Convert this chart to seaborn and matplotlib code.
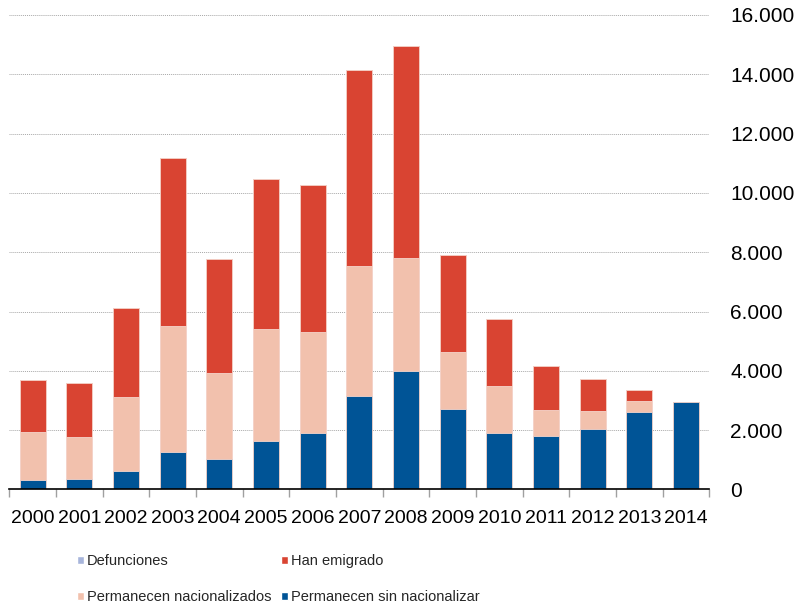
import numpy as np
import pandas as pd
import matplotlib
matplotlib.use("Agg")
import matplotlib.pyplot as plt
import seaborn as sns
from matplotlib import font_manager
from matplotlib.patches import Patch
from matplotlib.ticker import FuncFormatter, FixedLocator

years = [str(y) for y in range(2000, 2015)]
sin_nacionalizar = [310, 340, 630, 1250, 1010, 1630, 1890, 3140, 4000, 2720, 1910, 1790, 2040, 2600, 2950]
nacionalizados = [1610, 1440, 2480, 4260, 2910, 3780, 3410, 4400, 3820, 1920, 1580, 880, 610, 380, 0]
emigrado = [1770, 1800, 3000, 5670, 3840, 5050, 4960, 6600, 7150, 3280, 2260, 1490, 1060, 370, 0]
defunciones = [0] * 15

colors = {"Defunciones": "#A7B5DB", "Han emigrado": "#D94432",
          "Permanecen nacionalizados": "#F2C1AD", "Permanecen sin nacionalizar": "#005496"}

df = pd.DataFrame({"year": years,
                   "Permanecen sin nacionalizar": sin_nacionalizar,
                   "Permanecen nacionalizados": nacionalizados,
                   "Han emigrado": emigrado,
                   "Defunciones": defunciones})

# cumulative tops, bottom layer first
order = ["Permanecen sin nacionalizar", "Permanecen nacionalizados", "Han emigrado", "Defunciones"]
cum = df[order].cumsum(axis=1)

sns.set_theme(style="white")
plt.rcParams["font.family"] = ["Liberation Sans", "DejaVu Sans"]

installed = {f.name for f in font_manager.fontManager.ttflist}
if "Liberation Sans Narrow" in installed:
    legend_font = dict(family="Liberation Sans Narrow", size=12)
else:
    legend_font = dict(family="Liberation Sans", size=10.5)

fig = plt.figure(figsize=(7.99, 6.09), dpi=100)
ax = fig.add_axes([9.3 / 799, 1 - 489.4 / 609, 700 / 799, 474.4 / 609])

# draw tallest (total) first, then overlay lower cumulative layers
for name in reversed(order):
    sns.barplot(x=df["year"], y=cum[name], color=colors[name], saturation=1,
                width=0.56, errorbar=None, edgecolor="#F5D5CC", linewidth=0.6,
                ax=ax, zorder=3)

ax.set_ylim(0, 16000)
ax.set_xlim(-0.5, 14.5)
ax.set_xlabel("")
ax.set_ylabel("")

ax.yaxis.tick_right()
ax.yaxis.set_major_locator(FixedLocator(np.arange(0, 16001, 2000)))
ax.yaxis.set_major_formatter(FuncFormatter(lambda v, p: f"{int(v):,}".replace(",", ".")))
ax.tick_params(axis="y", length=0, pad=15, labelsize=15, colors="#000000")
ax.grid(axis="y", color="#A8A8A8", linestyle=(0, (1, 1)), linewidth=0.7, zorder=0)
ax.set_axisbelow(True)

ax.set_xticks(range(len(years)))
ax.set_xticklabels(years)
ax.set_xticks(np.arange(-0.5, 15, 1), minor=True)
ax.tick_params(axis="x", which="major", length=0, pad=15, labelsize=14, colors="#000000")
ax.tick_params(axis="x", which="minor", length=6, width=1, color="#A0A0A0", bottom=True)

for s in ["top", "left", "right"]:
    ax.spines[s].set_visible(False)
ax.spines["bottom"].set_color("#000000")
ax.spines["bottom"].set_linewidth(1.2)
ax.spines["bottom"].set_zorder(5)

legend_kw = dict(loc="upper left", frameon=False, prop=legend_font, handlelength=0.45,
                 handleheight=0.45, handletextpad=0.25, labelspacing=1.5,
                 borderpad=0, borderaxespad=0)
col1 = ["Defunciones", "Permanecen nacionalizados"]
col2 = ["Han emigrado", "Permanecen sin nacionalizar"]
fig.legend([Patch(facecolor=colors[n]) for n in col1], col1,
           bbox_to_anchor=(77 / 799, 1 - 554 / 609), **legend_kw)
fig.legend([Patch(facecolor=colors[n]) for n in col2], col2,
           bbox_to_anchor=(281 / 799, 1 - 554 / 609), **legend_kw)

fig.savefig("out.png", dpi=100)
